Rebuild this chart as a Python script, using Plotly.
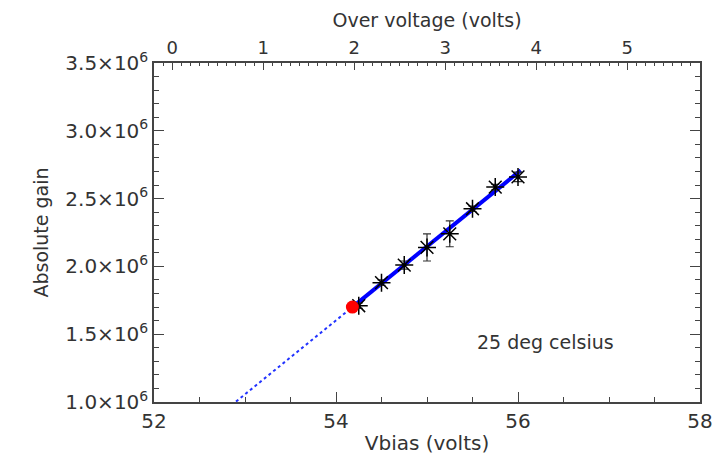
import plotly.graph_objects as go

# Data
vbias = [54.25, 54.5, 54.75, 55.0, 55.25, 55.5, 55.75, 56.0]
gain = [1.71e6, 1.88e6, 2.01e6, 2.14e6, 2.24e6, 2.425e6, 2.585e6, 2.66e6]
gain_err = [0.02e6, 0.02e6, 0.03e6, 0.10e6, 0.095e6, 0.02e6, 0.02e6, 0.035e6]

op_v = [54.18]
op_g = [1.70e6]

fit_slope = 0.545e6      # gain per volt
fit_v_dotted = [52.85, 54.18]
fit_v_solid = [54.18, 56.03]

breakdown_v = 52.2
x_range = [52, 58]
y_range = [1.0e6, 3.5e6]
x_ticks = [52, 54, 56, 58]
top_ticks = [0, 1, 2, 3, 4, 5]
y_ticks = [1.0e6, 1.5e6, 2.0e6, 2.5e6, 3.0e6, 3.5e6]
y_ticklabels = ["1.0×10<sup>6</sup>", "1.5×10<sup>6</sup>", "2.0×10<sup>6</sup>",
                "2.5×10<sup>6</sup>", "3.0×10<sup>6</sup>", "3.5×10<sup>6</sup>"]

label_text = "25 deg celsius"
label_v = 56.3
label_g = 1.44e6


def fit(v):
    return op_g[0] + fit_slope * (v - op_v[0])


font_family = "DejaVu Sans"
axis_color = "#444444"
text_color = "#333333"

fig = go.Figure()

fig.add_trace(go.Scatter(
    x=fit_v_dotted, y=[fit(v) for v in fit_v_dotted], mode="lines",
    line=dict(color="#2233ff", width=2, dash="dot"), showlegend=False,
    hoverinfo="skip"))
fig.add_trace(go.Scatter(
    x=fit_v_solid, y=[fit(v) for v in fit_v_solid], mode="lines",
    line=dict(color="#0000ff", width=4), showlegend=False, hoverinfo="skip"))
fig.add_trace(go.Scatter(
    x=vbias, y=gain, mode="markers",
    marker=dict(symbol="asterisk-open", size=15, color="black",
                line=dict(color="black", width=1.5)),
    error_y=dict(type="data", array=gain_err, color="#333333", thickness=1.2, width=4),
    showlegend=False))
fig.add_trace(go.Scatter(
    x=op_v, y=op_g, mode="markers",
    marker=dict(symbol="circle", size=13, color="#ff0000"), showlegend=False))
# invisible trace for top axis
fig.add_trace(go.Scatter(
    x=[x_range[0] - breakdown_v, x_range[1] - breakdown_v], y=y_range,
    xaxis="x2", mode="markers", marker=dict(opacity=0), showlegend=False,
    hoverinfo="skip"))

fig.add_annotation(x=label_v, y=label_g, xref="x", yref="y", text=label_text,
                   showarrow=False, font=dict(size=19, color=text_color, family=font_family),
                   xanchor="center", yanchor="middle")

# page body has an 8px default margin; figure is sized to compensate
fig.update_layout(
    width=717, height=455,
    margin=dict(l=146, r=13, t=46, b=55),
    plot_bgcolor="white", paper_bgcolor="white",
    font=dict(family=font_family, color=text_color, size=19),
    xaxis=dict(range=x_range, tickvals=x_ticks, ticks="inside", ticklen=10,
               tickwidth=1.2, tickcolor=axis_color, showline=True, linecolor=axis_color,
               linewidth=2, showgrid=False, zeroline=False, mirror=False,
               minor=dict(dtick=0.5, ticks="inside", ticklen=5, tickcolor=axis_color,
                          showgrid=False),
               title=dict(text="Vbias (volts)", standoff=4, font=dict(size=20)),
               tickfont=dict(size=20)),
    xaxis2=dict(range=[x_range[0] - breakdown_v, x_range[1] - breakdown_v],
                overlaying="x", side="top", tickvals=top_ticks, ticks="inside",
                ticklen=7, tickwidth=1.2, tickcolor=axis_color, showline=True,
                linecolor=axis_color, linewidth=1.5, showgrid=False, zeroline=False,
                minor=dict(dtick=0.1, ticks="inside", ticklen=3, tickcolor=axis_color,
                           showgrid=False),
                title=dict(text="Over voltage (volts)", standoff=4, font=dict(size=19)),
                tickfont=dict(size=18)),
    yaxis=dict(range=y_range, tickvals=y_ticks, ticktext=y_ticklabels,
               ticks="inside", ticklen=10, tickwidth=1.2, tickcolor=axis_color,
               showline=True, linecolor=axis_color, linewidth=1.5, mirror="ticks",
               showgrid=False, zeroline=False,
               minor=dict(dtick=0.1e6, ticks="inside", ticklen=5, tickcolor=axis_color,
                          showgrid=False),
               title=dict(text="Absolute gain", standoff=12, font=dict(size=19)),
               tickfont=dict(size=20)),
)

fig.write_html("out.html")
